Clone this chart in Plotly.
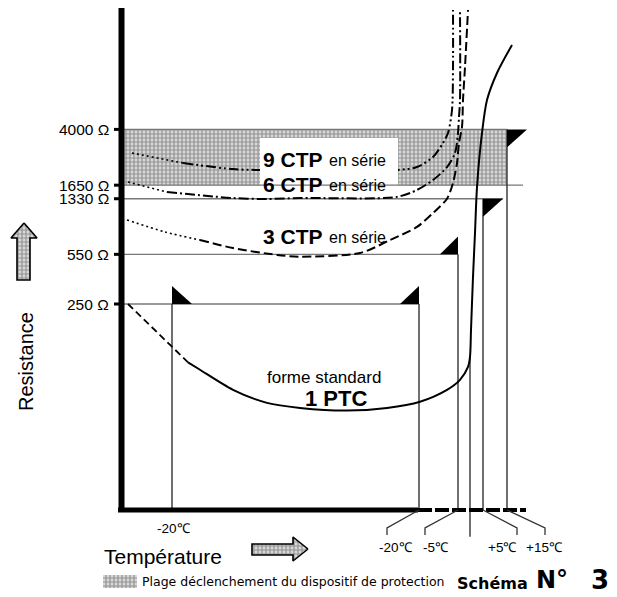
import math
import plotly.graph_objects as go

# the page body adds an 8 px margin, so the figure covers screen pixels 8..617 x 8..597
OFF = 8
W, H = 617 - OFF, 597 - OFF

# ---------------- data (schematic) ----------------
R_TICKS = [4000, 1650, 1330, 550, 250]
R_LABELS = ["4000 \u03a9", "1650 \u03a9", "1330 \u03a9", "550 \u03a9", "250 \u03a9"]

# 1 PTC (forme standard)
ptc_dash_x = [128, 188]
ptc_dash_r = [250, 99]
ptc_x = [188, 200, 233, 267, 300, 347, 387, 420, 447, 460, 468, 470, 471, 473, 475, 477, 482, 487, 497, 512]
ptc_r = [99, 88, 64, 52, 48, 46, 48, 53, 64, 75, 92, 108, 165, 384, 772, 1600, 3780, 6380, 9800, 15280]

# 3 CTP en série
c3_dot_x = [127, 165, 200]
c3_dot_r = [950, 785, 690]
c3_x = [200, 233, 277, 300, 360, 390, 417, 433, 447, 453, 457, 459, 462, 463, 465, 468]
c3_r = [690, 608, 545, 530, 562, 690, 850, 1060, 1330, 1710, 2345, 3220, 4160, 6380, 10780, 26650]

# 6 CTP en série
c6_dot_x = [128, 167]
c6_dot_r = [1735, 1480]
c6_x = [167, 233, 267, 300, 397, 417, 433, 447, 455, 458, 459, 460, 460]
c6_r = [1480, 1345, 1325, 1345, 1370, 1530, 1790, 2200, 2750, 3780, 4870, 6380, 26650]

# 9 CTP en série
c9_dot_x = [132, 183]
c9_dot_r = [2750, 2345]
c9_x = [183, 233, 260, 397, 417, 433, 443, 448, 452, 453, 453]
c9_r = [2345, 2130, 2100, 2100, 2200, 2580, 3220, 3780, 5445, 10780, 26650]

# trip markers: x position, resistance level, label
trip_x = [172, 419, 458, 470, 483, 507]
trip_r = [250, 250, 550, 108, 1330, 4000]
trip_labels = ["-20℃", "-20℃", "-5℃", "", "+5℃", "+15℃"]

R_BOTTOM = 9.5      # resistance at the temperature axis
FONT = "Arial, Liberation Sans, sans-serif"
DV = "DejaVu Sans"

fig = go.Figure()

def line(x, y, dash="solid", width=2, color="black", yaxis="y", shape="spline"):
    fig.add_trace(go.Scatter(x=x, y=y, mode="lines", yaxis=yaxis, hoverinfo="skip",
                             line=dict(color=color, width=width, dash=dash, shape=shape, smoothing=0.8),
                             showlegend=False))

def poly(x, y, yaxis="y", color="black", pattern=None, lw=0):
    kw = dict(fillcolor=color)
    if pattern:
        kw = dict(fillcolor="#d4d4d4", fillpattern=dict(shape="+", size=4, solidity=0.5,
                                                         fgcolor="#4a4a4a", bgcolor="#d8d8d8"))
    fig.add_trace(go.Scatter(x=x + [x[0]], y=y + [y[0]], mode="lines", fill="toself", yaxis=yaxis,
                             hoverinfo="skip", showlegend=False,
                             line=dict(color="black", width=lw), **kw))

# hatched trip band
poly([122, 507, 507, 122], [1650, 1650, 4000, 4000], pattern=True)
# 9 CTP curve (partly hidden by label box)
line(c9_dot_x, c9_dot_r, dash="2px,3px", width=1.6)
line(c9_x, c9_r, dash="10px,3px,2px,3px,2px,3px", width=2)
# white label box
poly([260, 398, 398, 260], [1412, 1412, 3490, 3490], color="white")

# horizontal resistance levels
h_end = [507, 523, 503, 458, 419]
for r, xe in zip(R_TICKS, h_end):
    line([122, xe], [r, r], width=1.3, color="#777", shape="linear")

# vertical trip lines
for x, r in zip(trip_x, trip_r):
    y_end = 6.2 if x == 470 else R_BOTTOM
    line([x, x], [r, y_end], width=1.4, color="#333", shape="linear")

# flags
k = 1.33
poly([507, 527, 507], [4000, 4000, 4000 / k])
poly([483, 503, 483], [1330, 1330, 1330 / k])
poly([458, 440, 458], [550, 550, 550 * k])
poly([172, 192, 172], [250, 250, 250 * k])
poly([419, 400, 419], [250, 250, 250 * k])

# curves
line(ptc_dash_x, ptc_dash_r, dash="7px,4px", width=1.8, shape="linear")
line(ptc_x, ptc_r, width=2)
line(c3_dot_x, c3_dot_r, dash="2px,3px", width=1.6)
line(c3_x, c3_r, dash="9px,4px", width=2)
line(c6_dot_x, c6_dot_r, dash="2px,3px", width=1.6)
line(c6_x, c6_r, dash="10px,3px,2px,3px", width=2)

# axes (schematic frame, pixel space)
line([121.5, 121.5], [7, 512], width=6, yaxis="y2", shape="linear")
line([118, 418], [510, 510], width=5, yaxis="y2", shape="linear")
line([418, 526], [510, 510], width=4, dash="14px,3px", yaxis="y2", shape="linear")

# y tick marks
for r in R_TICKS:
    line([114, 122], [r, r], width=3, shape="linear")

# connectors below the axis
conn = [([419, 387, 387], [510, 528, 535]),
        ([458, 425, 425], [510, 528, 535]),
        ([483, 517, 517], [510, 528, 535]),
        ([507, 545, 545], [510, 528, 535])]
for cx, cy in conn:
    line(cx, cy, width=1.3, color="#333", yaxis="y2", shape="linear")

# arrows
poly([24, 37, 30, 30, 17, 17, 11], [223, 238, 238, 280, 280, 238, 238], yaxis="y2", pattern=True, lw=1.6)
poly([308, 293, 293, 252, 252, 293, 293], [549, 537, 544, 544, 555, 555, 561], yaxis="y2", pattern=True, lw=1.6)
# legend swatch
poly([103, 137, 137, 103], [575, 575, 588, 588], yaxis="y2", pattern=True, lw=0)

ann = []
def txt(x, y, s, size, bold=False, anchor="left", family=FONT, angle=0):
    ann.append(dict(x=x, y=y, xref="x", yref="y2", text=("<b>%s</b>" % s) if bold else s,
                    showarrow=False, xanchor=anchor, yanchor="middle", textangle=angle,
                    font=dict(family=family, size=size, color="black")))

# y tick labels (placed on the resistance axis)
for r, lab in zip(R_TICKS, R_LABELS):
    ann.append(dict(x=111, y=math.log10(r), xref="x", yref="y", text=lab, showarrow=False,
                    xanchor="right", yanchor="middle", font=dict(family=FONT, size=15.5, color="black")))

txt(261, 159, "9 CTP", 21, bold=True)
txt(327, 160, "en série", 16)
txt(261, 184, "6 CTP", 21, bold=True)
txt(327, 185, "en série", 16)
txt(261, 236, "3 CTP", 21, bold=True)
txt(327, 237, "en série", 16)
txt(324, 377, "forme standard", 17, anchor="center")
txt(336, 398, "1 PTC", 22, bold=True, anchor="center")
txt(26, 362, "Resistance", 20, anchor="center", angle=-90)
txt(163, 556, "Température", 21, anchor="center")
txt(140, 581, "Plage déclenchement du dispositif de protection", 12.5, family=DV)
txt(455, 583, "Schéma", 16, bold=True, family=DV)
txt(534, 580, "N°", 24, bold=True, family=DV)
txt(589, 580, "3", 26, bold=True, family=DV)

# temperature labels
lab_pos = [(174, 528), (396, 547), (436, 547), None, (502, 547), (544, 547)]
for p, lab in zip(lab_pos, trip_labels):
    if p and lab:
        txt(p[0], p[1], lab, 13.5, anchor="center")

fig.update_layout(
    width=W, height=H, margin=dict(l=0, r=0, t=0, b=0, pad=0),
    paper_bgcolor="white", plot_bgcolor="white", annotations=ann,
    xaxis=dict(range=[OFF, 617], visible=False, fixedrange=True),
    yaxis=dict(type="log", range=[0.37725, 4.43932], visible=False),
    yaxis2=dict(range=[597, OFF], overlaying="y", visible=False),
)
fig.write_html("out.html")
